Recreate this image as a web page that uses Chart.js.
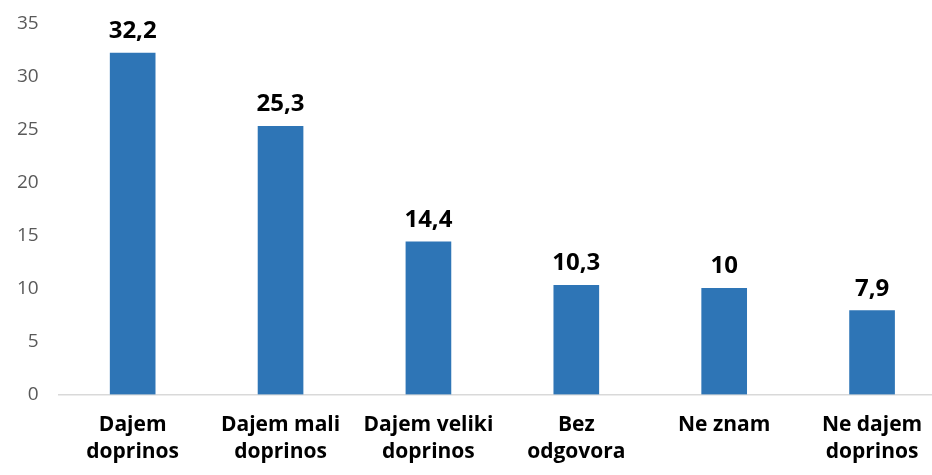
<!DOCTYPE html>
<html><head><meta charset="utf-8">
<script src="https://cdn.jsdelivr.net/npm/chart.js@4/dist/chart.umd.min.js"></script>
<style>html,body{margin:0;padding:0;overflow:hidden;background:#fff}#wrap{width:946px;height:475px}</style>
</head><body><div id="wrap"><canvas id="c" width="946" height="475"></canvas></div>
<script>
const categories = [["Dajem","doprinos"],["Dajem mali","doprinos"],["Dajem veliki","doprinos"],["Bez","odgovora"],["Ne znam"],["Ne dajem","doprinos"]];
const values = [32.2, 25.3, 14.4, 10.3, 10, 7.9];
const valueLabels = ["32,2","25,3","14,4","10,3","10","7,9"];
const FONT = "'Open Sans', sans-serif";
const labelPlugin = {
  id:'vlabels',
  afterDatasetsDraw(chart){
    const ctx=chart.ctx; const meta=chart.getDatasetMeta(0);
    ctx.save(); ctx.font="bold 24px "+FONT; ctx.fillStyle="#000"; ctx.textAlign="center"; ctx.textBaseline="bottom";
    meta.data.forEach((b,i)=>{ ctx.fillText(valueLabels[i], b.x, b.y-10); });
    ctx.restore();
  }
};
new Chart(document.getElementById('c'),{
  type:'bar',
  data:{labels:categories,datasets:[{data:values,backgroundColor:'#2E75B6',barThickness:45}]},
  options:{responsive:false,animation:false,
    layout:{padding:{top:22,left:5,right:0,bottom:0}},
    plugins:{legend:{display:false},tooltip:{enabled:false}},
    scales:{
      y:{min:0,max:35,ticks:{stepSize:5,color:'#595959',font:{family:FONT,size:19},padding:12},grid:{display:false},border:{display:false}},
      x:{grid:{display:false},border:{display:true,color:'#d9d9d9',width:1.5},ticks:{color:'#000',font:{family:FONT,size:21,weight:'bold',lineHeight:1.3},padding:9,maxRotation:0,autoSkip:false}}
    }
  },
  plugins:[labelPlugin]
});
</script></body></html>
